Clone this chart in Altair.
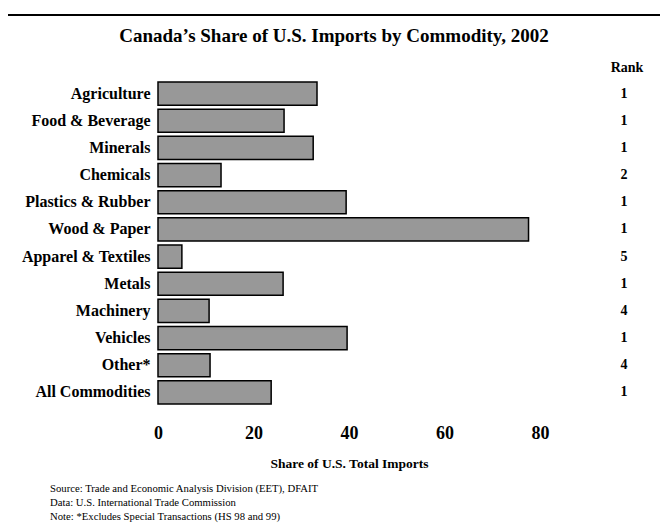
import altair as alt
import pandas as pd

categories = ["Agriculture", "Food & Beverage", "Minerals", "Chemicals",
              "Plastics & Rubber", "Wood & Paper", "Apparel & Textiles",
              "Metals", "Machinery", "Vehicles", "Other*", "All Commodities"]
shares = [33.3, 26.4, 32.5, 13.2, 39.4, 77.6, 5.0, 26.2, 10.7, 39.6, 10.9, 23.7]
ranks = [1, 1, 1, 2, 1, 1, 5, 1, 4, 1, 4, 1]
x_ticks = [0, 20, 40, 60, 80]
title_text = "Canada\u2019s Share of U.S. Imports by Commodity, 2002"
x_title = "Share of U.S. Total Imports"
rank_header = "Rank"
notes = ["Source: Trade and Economic Analysis Division (EET), DFAIT",
         "Data: U.S. International Trade Commission",
         "Note: *Excludes Special Transactions (HS 98 and 99)"]

df = pd.DataFrame({"category": categories, "share": shares, "rank": ranks})
one = pd.DataFrame({"k": [0]})

W, H = 382, 326
FONT = "Liberation Serif"

bars = alt.Chart(df).mark_bar(color="#989898", stroke="black", strokeWidth=1.5).encode(
    x=alt.X("share:Q", scale=alt.Scale(domain=[0, 80], nice=False),
            axis=alt.Axis(values=x_ticks, title=x_title, grid=False, ticks=False, domain=False,
                          labelFlush=False,
                          labelFont=FONT, labelFontSize=18, labelFontWeight="bold",
                          labelPadding=18, labelColor="black",
                          titleFont=FONT, titleFontSize=13.5, titleFontWeight="bold",
                          titlePadding=14, titleColor="black")),
    y=alt.Y("category:N", sort=categories,
            scale=alt.Scale(paddingInner=0.15, paddingOuter=0.075),
            axis=alt.Axis(title=None, ticks=False, domain=False, labelFont=FONT,
                          labelFontSize=16, labelFontWeight="bold", labelPadding=8,
                          labelColor="black", labelLimit=250)),
)

rank_text = alt.Chart(df).mark_text(font=FONT, fontSize=14, fontWeight="bold",
                                    align="center", color="black").encode(
    y=alt.Y("category:N", sort=categories),
    x=alt.value(466),
    text="rank:N",
)

rank_head = alt.Chart(one).mark_text(font=FONT, fontSize=14, fontWeight="bold",
                                     align="center", color="black").encode(
    x=alt.value(469), y=alt.value(-12), text=alt.value(rank_header))

title = alt.Chart(one).mark_text(font=FONT, fontSize=19, fontWeight="bold",
                                 align="center", color="black").encode(
    x=alt.value(176), y=alt.value(-44), text=alt.value(title_text))

footer = alt.Chart(one).mark_text(font=FONT, fontSize=10.7, align="left", baseline="middle",
                                  lineHeight=14, color="black").encode(
    x=alt.value(-108), y=alt.value(409), text=alt.value(notes))

frame_left = alt.Chart(one).mark_rule(color="black", strokeWidth=2).encode(
    x=alt.value(-151), y=alt.value(-65), y2=alt.value(443))
frame_top = alt.Chart(one).mark_rule(color="black", strokeWidth=2).encode(
    x=alt.value(-151), x2=alt.value(502), y=alt.value(-65))

chart = alt.layer(frame_left, frame_top, bars, rank_text, rank_head, title, footer).properties(
    width=W, height=H,
    autosize=alt.AutoSizeParams(type="none"),
    padding={"left": 150, "top": 72, "right": 120, "bottom": 117},
).configure_view(stroke=None)

chart.save("out.html", embed_options={"renderer": "svg", "actions": False})
